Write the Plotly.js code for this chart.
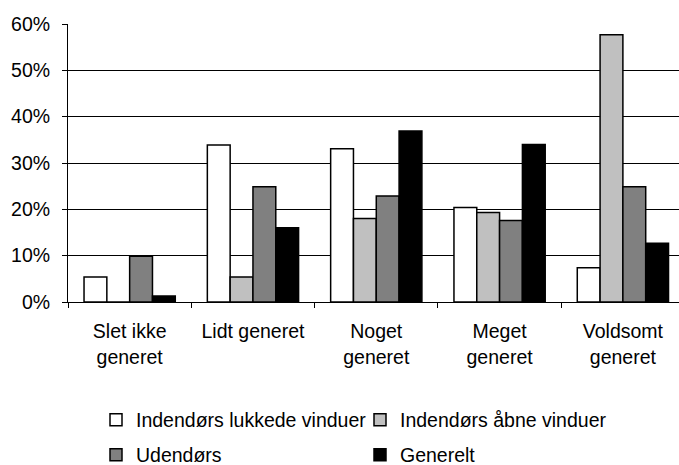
<!DOCTYPE html>
<html>
<head>
<meta charset="utf-8">
<script src="https://cdn.plot.ly/plotly-3.0.1.min.js"></script>
<style>html,body{margin:0;padding:0;background:#fff;}#chart{width:679px;height:465px;}</style>
</head>
<body>
<div id="chart"></div>
<script>
var categories = ["Slet ikke<br>generet", "Lidt generet", "Noget<br>generet", "Meget<br>generet", "Voldsomt<br>generet"];
var seriesNames = ["Indendørs lukkede vinduer", "Indendørs åbne vinduer", "Udendørs", "Generelt"];
var lukkede = [5.4, 33.9, 33.1, 20.4, 7.4];
var aabne = [0, 5.4, 18.0, 19.3, 57.7];
var udendors = [9.9, 24.9, 22.9, 17.6, 24.9];
var generelt = [1.3, 16.0, 36.9, 34.0, 12.7];
var colors = ["#FFFFFF", "#C0C0C0", "#808080", "#000000"];
var yTickVals = [0, 10, 20, 30, 40, 50, 60];
var yTickText = ["0%", "10%", "20%", "30%", "40%", "50%", "60%"];

var FONT = "Liberation Sans, Arial, Helvetica, sans-serif";
var series = [lukkede, aabne, udendors, generelt];
var legendIds = ["legend", "legend", "legend2", "legend2"];
var data = series.map(function (vals, i) {
  return {
    type: "bar",
    x: categories,
    y: vals,
    name: seriesNames[i],
    legend: legendIds[i],
    marker: { color: colors[i], line: { color: "#000000", width: 1.5 } },
    hoverinfo: "x+y+name"
  };
});

var legendCommon = {
  orientation: "h",
  xref: "container",
  yref: "container",
  xanchor: "left",
  yanchor: "middle",
  entrywidth: 219,
  entrywidthmode: "pixels",
  font: { family: FONT, size: 19.5, color: "#000000" },
  bgcolor: "rgba(0,0,0,0)",
  borderwidth: 0,
  traceorder: "normal"
};

var layout = {
  width: 679,
  height: 465,
  margin: { l: 68, r: 0, t: 24, b: 163 },
  paper_bgcolor: "#FFFFFF",
  plot_bgcolor: "#FFFFFF",
  font: { family: FONT, size: 19.5, color: "#000000" },
  barmode: "group",
  bargap: 0.26,
  bargroupgap: 0,
  showlegend: true,
  xaxis: {
    type: "category",
    range: [-0.5, 4.455],
    showline: true,
    linecolor: "#000000",
    linewidth: 1,
    ticks: "outside",
    tickson: "boundaries",
    ticklen: 5,
    tickcolor: "#000000",
    showgrid: false,
    zeroline: false,
    tickfont: { family: FONT, size: 19.5, color: "#000000" },
    ticklabelstandoff: 12,
    fixedrange: true
  },
  yaxis: {
    range: [0, 60],
    tickmode: "array",
    tickvals: yTickVals,
    ticktext: yTickText,
    showline: true,
    linecolor: "#000000",
    linewidth: 1,
    ticks: "outside",
    ticklen: 5,
    tickcolor: "#000000",
    showgrid: true,
    gridcolor: "#000000",
    gridwidth: 1,
    zeroline: false,
    tickfont: { family: FONT, size: 19.5, color: "#000000" },
    ticklabelstandoff: 8,
    fixedrange: true
  },
  legend: Object.assign({}, legendCommon, { x: 96 / 679, y: 1 - 420 / 465 }),
  legend2: Object.assign({}, legendCommon, { x: 96 / 679, y: 1 - 455 / 465 })
};

Plotly.newPlot("chart", data, layout, { displayModeBar: false, staticPlot: true });
</script>
</body>
</html>
